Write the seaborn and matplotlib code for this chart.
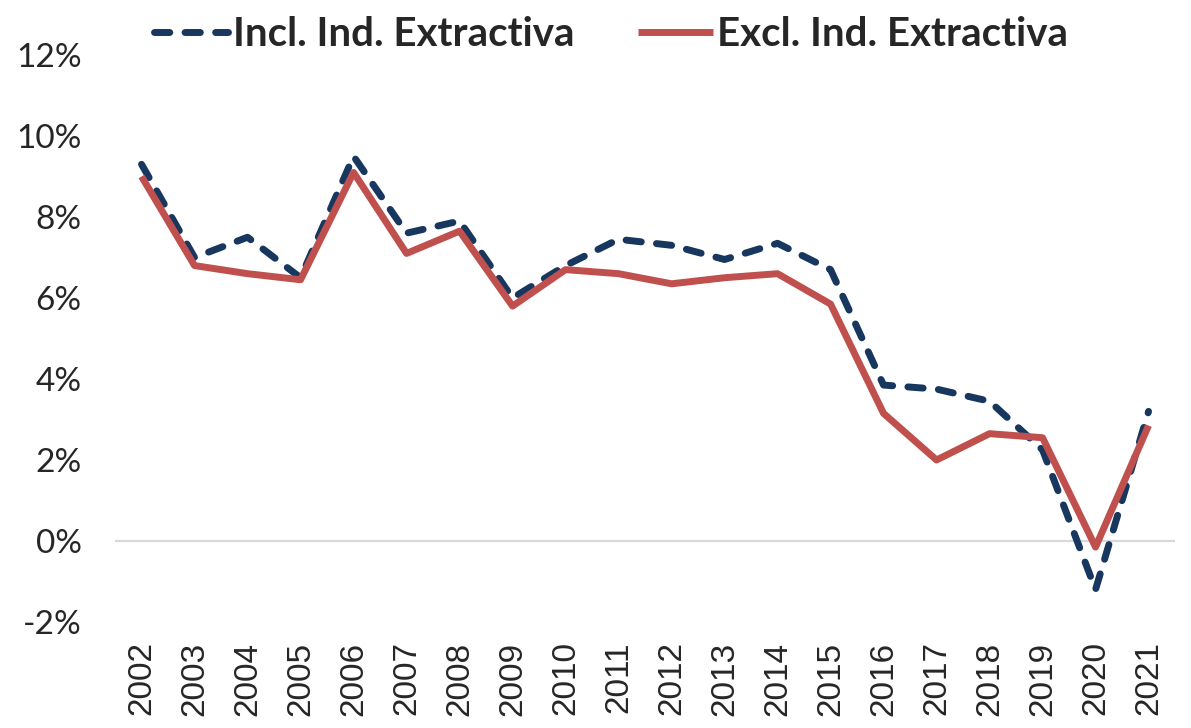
import numpy as np
import pandas as pd
import matplotlib
matplotlib.use("Agg")
import matplotlib.pyplot as plt
import seaborn as sns

sns.set_style("white")
plt.rcParams['font.family'] = ['Lato', 'DejaVu Sans']

# -----------------------------
# Data (growth rate, %)
# -----------------------------
years = [str(y) for y in range(2002, 2022)]
incl = [9.3, 7.0, 7.5, 6.5, 9.5, 7.6, 7.9, 6.0, 6.8, 7.45,
        7.3, 6.95, 7.35, 6.7, 3.85, 3.75, 3.45, 2.25, -1.2, 3.2]
excl = [9.0, 6.8, 6.6, 6.45, 9.1, 7.1, 7.65, 5.8, 6.7, 6.6,
        6.35, 6.5, 6.6, 5.85, 3.15, 2.0, 2.65, 2.55, -0.15, 2.85]
series_names = ["Incl. Ind. Extractiva", "Excl. Ind. Extractiva"]

df = pd.DataFrame({
    "year": years * 2,
    "value": incl + excl,
    "serie": [series_names[0]] * len(years) + [series_names[1]] * len(years),
})

colors = {series_names[0]: "#17375E", series_names[1]: "#C0504D"}
dashes = {series_names[0]: (2.2, 2.2), series_names[1]: ""}

fig = plt.figure(figsize=(11.91, 7.28), dpi=100)
ax = fig.add_axes([0.0966, 0.1456, 0.89, 0.7789])

ax.axhline(0, color="#D9D9D9", lw=1.6, zorder=0)

sns.lineplot(data=df, x="year", y="value", hue="serie", style="serie",
             palette=colors, dashes=dashes, linewidth=5, ax=ax,
             sort=False, legend=True)

for line in ax.get_lines()[1:]:
    line.set_dash_capstyle("round")
    line.set_solid_capstyle("butt")

ax.set_ylim(-2, 12)
ax.set_xlim(-0.5, len(years) - 0.5)
ax.set_yticks(range(-2, 13, 2))
ax.set_yticklabels([f"{v}%" for v in range(-2, 13, 2)], fontsize=24)
ax.tick_params(axis="x", labelrotation=90, labelsize=24, length=0, pad=14)
ax.tick_params(axis="y", length=0, pad=24)
for lbl in ax.get_xticklabels():
    lbl.set_family(["Liberation Sans", "DejaVu Sans"])
ax.set_xlabel("")
ax.set_ylabel("")
sns.despine(ax=ax, left=True, bottom=True)

handles, labels = ax.get_legend_handles_labels()
ax.get_legend().remove()
for h in handles:
    h.set_linewidth(5)
    h.set_dash_capstyle("round")
leg = fig.legend(handles, labels, loc="center", bbox_to_anchor=(0.513, 0.952),
                 ncol=2, frameon=False, handlelength=1.85, handletextpad=0.1,
                 columnspacing=1.6, prop={"weight": "bold", "size": 29})

plt.savefig("out.png", dpi=100)
plt.close()
